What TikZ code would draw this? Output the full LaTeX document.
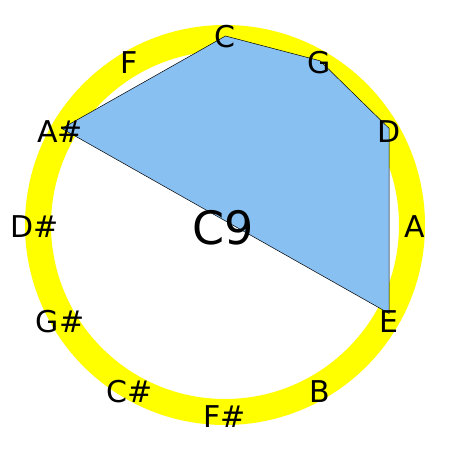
\documentclass[tikz,border=0pt]{standalone}
\usepackage{fontspec}
\setmainfont{DejaVu Sans}
\definecolor{ringyellow}{RGB}{255,255,0}
\definecolor{chordblue}{RGB}{137,192,242}
\newcommand{\notepoint}[2]{ \coordinate (p#1) at ( {225.5 + 189 * cos(#2)} , {221 - 185 * sin(#2)} );}
\newcommand{\notelabel}[3]{ \node[shape=rectangle,inner sep=0pt,font=\fontsize{30}{36}\selectfont] (#1) at ( {224.5 + 190 * cos(#2)} , {227 - 190 * sin(#2)} ){#3};}

\begin{document}
\begin{tikzpicture}[x=1pt,y=-1pt]
        \useasboundingbox ( 0 , 0 ) rectangle ( 450 , 450 );
        % ring
        \draw[ringyellow, line width=26pt] ( 225 , 225 ) circle (187);

        % chord points
        \notepoint{C}{90}
        \notepoint{G}{60}
        \notepoint{D}{30}
        \notepoint{E}{-30}
        \notepoint{As}{150}

        % chord
        \draw[fill=chordblue, line width=0.5pt] (pC) -- (pG) -- (pD) -- (pE) -- (pAs) -- cycle;

        % notes
        \notelabel{C}{90}{C}
        \notelabel{G}{60}{G}
        \notelabel{D}{30}{D}
        \notelabel{A}{0}{A}
        \notelabel{E}{-30}{E}
        \notelabel{B}{-60}{B}
        \notelabel{Fs}{-90}{F\#}
        \notelabel{Cs}{-120}{C\#}
        \notelabel{Gs}{-150}{G\#}
        \notelabel{Ds}{180}{D\#}
        \notelabel{As}{150}{A\#}
        \notelabel{F}{120}{F}

        % text
        \node[shape=rectangle,inner sep=0pt,font=\fontsize{46}{54}\selectfont] (chord) at ( 223.5 , 228 ){C9};
    \end{tikzpicture}
\end{document}
